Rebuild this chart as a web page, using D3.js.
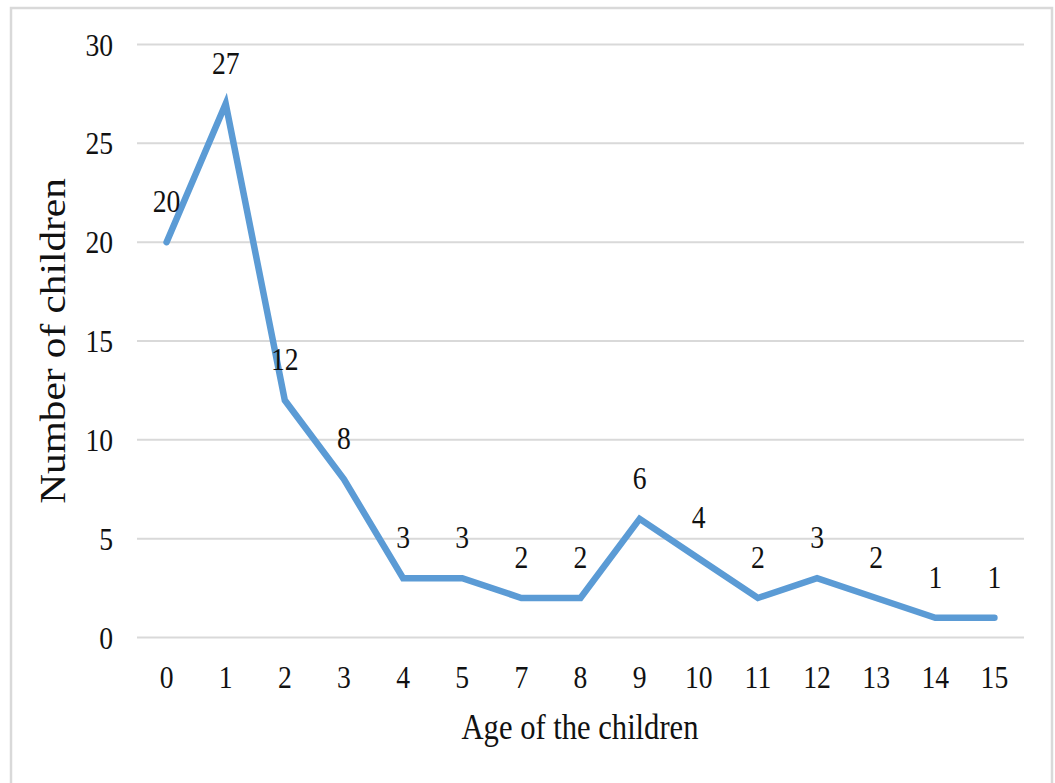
<!DOCTYPE html>
<html><head><meta charset="utf-8">
<script src="https://cdn.jsdelivr.net/npm/d3@7"></script>
<style>html,body{margin:0;padding:0;background:#fff;}svg{display:block;}</style>
</head><body>
<svg id="chart" width="1055" height="783"></svg>
<script>
const ages = ["0","1","2","3","4","5","7","8","9","10","11","12","13","14","15"];
const counts = [20,27,12,8,3,3,2,2,6,4,2,3,2,1,1];
const yTicks = [0,5,10,15,20,25,30];
const xTitle = "Age of the children";
const yTitle = "Number of children";

const svg = d3.select("#chart");
const FONT = "'Liberation Serif','Times New Roman',serif";
const SX = 0.85;

svg.append("rect").attr("x",11).attr("y",8).attr("width",1041).attr("height",820)
  .attr("fill","#fff").attr("stroke","#d9d9d9").attr("stroke-width",2.5);

const x = d3.scalePoint().domain(ages).range([137,1024]).padding(0.5);
const y = d3.scaleLinear().domain([0,30]).range([637.5,44.5]);

// gridlines
svg.append("g").selectAll("line").data(yTicks).join("line")
  .attr("x1",137).attr("x2",1024)
  .attr("y1",d=>y(d)).attr("y2",d=>y(d))
  .attr("stroke","#d9d9d9").attr("stroke-width",2);

function txt(g, xx, yy, s, size, anchor){
  return g.append("text")
    .attr("transform",`translate(${xx},${yy}) scale(${SX},1)`)
    .attr("text-anchor",anchor||"middle")
    .attr("font-family",FONT).attr("font-size",size).attr("fill","#111")
    .text(s);
}

const gy = svg.append("g");
yTicks.forEach(t=>txt(gy,113,y(t)+11,String(t),32.5,"end"));

const gx = svg.append("g");
ages.forEach(a=>txt(gx,x(a),688,a,32.5,"middle"));

// line
const line = d3.line().x((d,i)=>x(ages[i])).y(d=>y(d));
svg.append("path").datum(counts).attr("d",line)
  .attr("fill","none").attr("stroke","#5b9bd5").attr("stroke-width",6.5)
  .attr("stroke-linejoin","miter").attr("stroke-linecap","round");

// data labels
const gl = svg.append("g");
counts.forEach((v,i)=>txt(gl,x(ages[i]),y(v)-30,String(v),32.5,"middle"));

// axis titles
txt(svg,580,739,xTitle,36,"middle");
svg.append("text")
  .attr("transform","translate(65,341) rotate(-90) scale(1.18,1)")
  .attr("text-anchor","middle")
  .attr("font-family",FONT).attr("font-size",35).attr("fill","#111")
  .text(yTitle);
</script>
</body></html>
